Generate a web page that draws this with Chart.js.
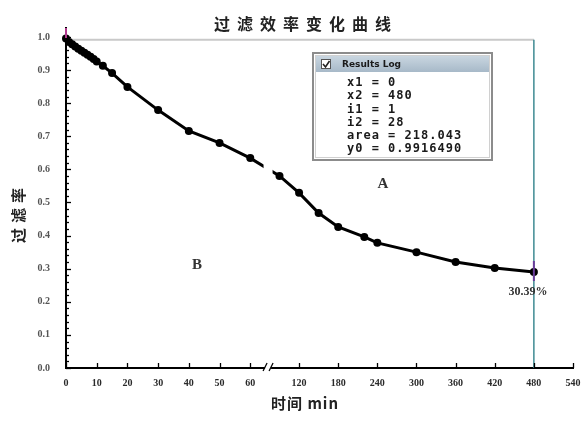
<!DOCTYPE html>
<html><head><meta charset="utf-8">
<script src="https://cdn.jsdelivr.net/npm/chart.js@4.4.1/dist/chart.umd.min.js"></script>
<style>html,body{margin:0;padding:0;background:#fff;}</style>
</head><body>
<canvas id="c" width="587" height="424"></canvas>
<script>
// ---- text ----
const chartTitle = '过滤效率变化曲线';
const xTitle = '时间 min';
const yTitle = '过滤率';
const regionLabels = ['A', 'B'];
const endLabel = '30.39%';
const logTitle = 'Results Log';
const logLines = ['x1 = 0', 'x2 = 480', 'i1 = 1', 'i2 = 28', 'area = 218.043', 'y0 = 0.9916490'];

// ---- data ----
const times = [0,1,2,3,4,5,6,7,8,9,10,12,15,20,30,40,50,60,90,120,150,180,220,240,300,360,420,480];
const efficiency = [0.995,0.985,0.978,0.971,0.964,0.958,0.952,0.946,0.940,0.933,0.926,0.913,0.891,0.849,0.779,0.716,0.680,0.634,0.580,0.529,0.468,0.426,0.396,0.378,0.350,0.320,0.302,0.290];
const baselineY0 = 0.9916490;
const rangeEnd = 480;

// ---- ticks ----
const xTickValues = [0,10,20,30,40,50,60,120,180,240,300,360,420,480,540];
const xTickLabels = ['0','10','20','30','40','50','60','120','180','240','300','360','420','480','540'];
const yTickValues = [0,0.1,0.2,0.3,0.4,0.5,0.6,0.7,0.8,0.9,1.0];
const yTickLabels = ['0.0','0.1','0.2','0.3','0.4','0.5','0.6','0.7','0.8','0.9','1.0'];

// ---- broken x axis mapping (two linear segments) ----
const BREAK_AT = 60, LEFT_RATE = 3.07, RIGHT_START = 120, RIGHT_ORIGIN = 233, RIGHT_RATE = 0.652;
const BREAK_U = 202;
function bx(t) { return t <= BREAK_AT ? t * LEFT_RATE : RIGHT_ORIGIN + (t - RIGHT_START) * RIGHT_RATE; }

const points = times.map((t, i) => ({ x: bx(t), y: efficiency[i] }));

const overlay = {
  id: 'overlay',
  beforeDatasetsDraw(chart) {
    const { ctx, scales: { x, y } } = chart;
    const yb = y.getPixelForValue(baselineY0);
    const xe = x.getPixelForValue(bx(rangeEnd));
    ctx.save();
    ctx.strokeStyle = '#c9c9c9'; ctx.lineWidth = 2;
    ctx.beginPath(); ctx.moveTo(x.getPixelForValue(0) + 4, yb); ctx.lineTo(xe, yb); ctx.stroke();
    ctx.strokeStyle = '#3f8b93'; ctx.lineWidth = 1.5;
    ctx.beginPath(); ctx.moveTo(xe, yb); ctx.lineTo(xe, y.getPixelForValue(0)); ctx.stroke();
    ctx.restore();
  },
  afterDatasetsDraw(chart) {
    const { ctx, chartArea, scales: { x } } = chart;
    const xb = x.getPixelForValue(BREAK_U);
    ctx.save();
    ctx.fillStyle = '#fff';
    ctx.fillRect(xb - 4.5, chartArea.top + 14, 9, chartArea.bottom - chartArea.top - 17);
    ctx.restore();
  },
  afterDraw(chart) {
    const { ctx, chartArea, scales: { x, y } } = chart;
    const L = chartArea.left, B = chartArea.bottom;
    ctx.save();
    // axis ticks (inside)
    ctx.strokeStyle = '#000'; ctx.lineWidth = 1.3;
    xTickValues.forEach(v => {
      const px = Math.round(x.getPixelForValue(bx(v))) + 0.5;
      ctx.beginPath(); ctx.moveTo(px, B); ctx.lineTo(px, B - 5); ctx.stroke();
    });
    for (let k = 0; k <= 50; k++) {
      const v = k * 0.02;
      const py = Math.round(y.getPixelForValue(v)) + 0.5;
      const len = (k % 5 === 0) ? 5 : 3;
      ctx.beginPath(); ctx.moveTo(L, py); ctx.lineTo(L + len, py); ctx.stroke();
    }
    // magenta top of y axis
    ctx.strokeStyle = '#b23a8e'; ctx.lineWidth = 2;
    ctx.beginPath(); ctx.moveTo(L, chartArea.top); ctx.lineTo(L, chartArea.top + 10); ctx.stroke();
    // axis break
    const xb = x.getPixelForValue(BREAK_U);
    ctx.fillStyle = '#fff'; ctx.fillRect(xb - 3, B - 3, 6, 6);
    ctx.strokeStyle = '#000'; ctx.lineWidth = 1.3;
    ctx.beginPath(); ctx.moveTo(xb - 5, B + 3); ctx.lineTo(xb - 1, B - 5); ctx.stroke();
    ctx.beginPath(); ctx.moveTo(xb + 1, B + 3); ctx.lineTo(xb + 5, B - 5); ctx.stroke();
    // cursor marker at end point
    const xe = x.getPixelForValue(bx(rangeEnd));
    const ye = y.getPixelForValue(efficiency[efficiency.length - 1]);
    ctx.strokeStyle = '#6a3d9a'; ctx.lineWidth = 2;
    ctx.beginPath(); ctx.moveTo(xe, ye - 11); ctx.lineTo(xe, ye + 9); ctx.stroke();

    // titles
    ctx.fillStyle = '#222'; ctx.textAlign = 'center'; ctx.textBaseline = 'middle';
    ctx.font = 'bold 16px "Noto Sans CJK SC"';
    ctx.letterSpacing = '7px';
    ctx.fillText(chartTitle, 306, 24);
    ctx.letterSpacing = '1px';
    ctx.font = 'bold 15px "Noto Sans CJK SC"';
    ctx.fillText(xTitle, 305, 403);
    ctx.save();
    ctx.translate(18, 213); ctx.rotate(-Math.PI / 2);
    ctx.letterSpacing = '5px';
    ctx.fillText(yTitle, 0, 0);
    ctx.restore();
    ctx.letterSpacing = '0px';

    // region labels
    ctx.font = 'bold 15px "Liberation Serif"'; ctx.fillStyle = '#333';
    ctx.fillText(regionLabels[0], 383, 184);
    ctx.fillText(regionLabels[1], 197, 265);
    ctx.font = 'bold 12px "Liberation Serif"';
    ctx.fillText(endLabel, 528, 292);

    // results log box
    const bxL = 313, bxT = 53, bxW = 179, bxH = 107;
    ctx.fillStyle = '#fff'; ctx.fillRect(bxL, bxT, bxW, bxH);
    ctx.strokeStyle = '#8c8c8c'; ctx.lineWidth = 2; ctx.strokeRect(bxL, bxT, bxW, bxH);
    ctx.strokeStyle = '#d0d0d0'; ctx.lineWidth = 1; ctx.strokeRect(bxL + 2.5, bxT + 2.5, bxW - 5, bxH - 5);
    const g = ctx.createLinearGradient(0, bxT + 3, 0, bxT + 19);
    g.addColorStop(0, '#c9d6e0'); g.addColorStop(1, '#a7b9c8');
    ctx.fillStyle = g; ctx.fillRect(bxL + 3, bxT + 3, bxW - 6, 16);
    ctx.fillStyle = '#fff'; ctx.fillRect(bxL + 8, bxT + 6, 10, 10);
    ctx.strokeStyle = '#555'; ctx.lineWidth = 1; ctx.strokeRect(bxL + 8.5, bxT + 6.5, 9, 9);
    ctx.strokeStyle = '#222'; ctx.lineWidth = 1.6;
    ctx.beginPath(); ctx.moveTo(bxL + 10, bxT + 11); ctx.lineTo(bxL + 12.5, bxT + 14); ctx.lineTo(bxL + 16.5, bxT + 8); ctx.stroke();
    ctx.fillStyle = '#1a1a1a'; ctx.textAlign = 'left';
    ctx.font = 'bold 9px "DejaVu Sans"';
    ctx.fillText(logTitle, bxL + 29, bxT + 11.5);
    ctx.font = 'bold 12px "DejaVu Sans Mono"';
    ctx.letterSpacing = '1px';
    logLines.forEach((s, i) => ctx.fillText(s, bxL + 34, 83 + i * 13.2));
    ctx.letterSpacing = '0px';
    ctx.restore();
  }
};

new Chart(document.getElementById('c'), {
  type: 'line',
  data: {
    datasets: [{
      data: points,
      borderColor: '#000',
      backgroundColor: '#000',
      borderWidth: 3,
      pointRadius: 4,
      pointBackgroundColor: '#000',
      pointBorderColor: '#000',
      pointBorderWidth: 0,
      tension: 0,
      fill: false,
      clip: false
    }]
  },
  options: {
    responsive: false,
    animation: false,
    devicePixelRatio: 1,
    layout: { padding: { top: 28, right: 14, left: 0, bottom: 0 } },
    plugins: { legend: { display: false }, tooltip: { enabled: false }, title: { display: false } },
    scales: {
      x: {
        type: 'linear',
        min: 0,
        max: bx(540),
        afterBuildTicks: s => { s.ticks = xTickValues.map(v => ({ value: bx(v) })); },
        afterFit: s => { s.height = 56; s.paddingLeft = 0; s.paddingRight = 0; },
        ticks: {
          autoSkip: false, maxRotation: 0, padding: 9,
          color: '#2a2a2a', font: { family: 'Liberation Serif', size: 10, weight: 'bold' },
          callback: (v, i) => xTickLabels[i]
        },
        grid: { display: false, drawTicks: false, tickLength: 0 },
        border: { display: true, color: '#000', width: 2 }
      },
      y: {
        type: 'linear',
        min: 0,
        max: 1.027,
        afterBuildTicks: s => { s.ticks = yTickValues.map(v => ({ value: v })); },
        afterFit: s => { s.width = 66; s.paddingTop = 0; s.paddingBottom = 0; },
        ticks: {
          autoSkip: false, padding: 16,
          color: '#555', font: { family: 'Liberation Serif', size: 10, weight: 'bold' },
          callback: (v, i) => yTickLabels[i]
        },
        grid: { display: false, drawTicks: false, tickLength: 0 },
        border: { display: true, color: '#000', width: 2 }
      }
    }
  },
  plugins: [overlay]
});
</script>
</body></html>
